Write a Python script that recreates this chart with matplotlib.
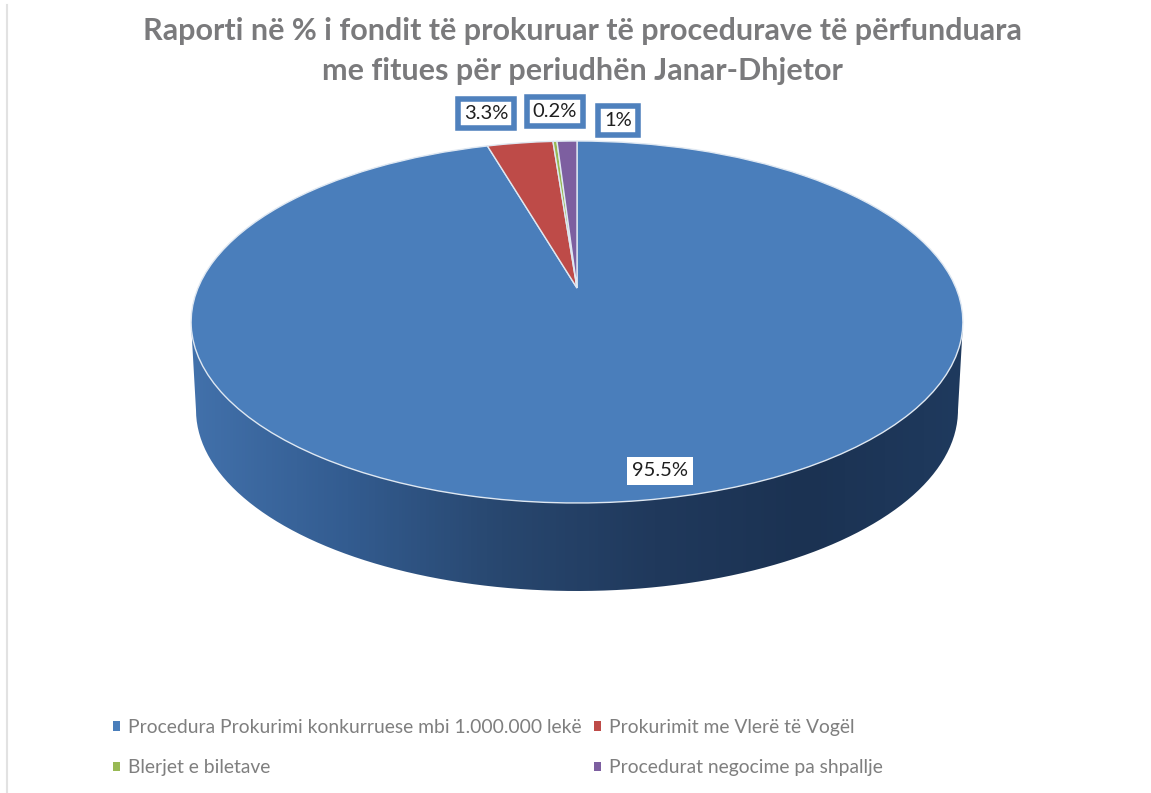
# -*- coding: utf-8 -*-
# 3D looking pie: procurement fund share by procedure type
import numpy as np
import matplotlib
matplotlib.use('Agg')
from matplotlib import pyplot as plt
from matplotlib.colors import LinearSegmentedColormap
from matplotlib.patches import PathPatch
from matplotlib.path import Path
from matplotlib.transforms import Transform

plt.rcParams['font.family'] = ['Lato', 'DejaVu Sans']

####HARDCODES####
title = 'Raporti në % i fondit të prokuruar të procedurave të përfunduara\nme fitues për periudhën Janar-Dhjetor'
categories = ['Procedura Prokurimi konkurruese mbi 1.000.000 lekë',
              'Prokurimit me Vlerë të Vogël',
              'Blerjet e biletave',
              'Procedurat negocime pa shpallje']
values = [95.5, 3.3, 0.2, 1]
value_labels = ['95.5%', '3.3%', '0.2%', '1%']
colors = ['#4a7ebb', '#be4b48', '#98b954', '#7d5fa0']
label_pos = [(660, 471), (486, 113.5), (555, 111.5), (618, 120.5)]  # pixels
boxed = [False, True, True, True]
legend_order = [0, 2, 1, 3]
#################

cx, apex_y = 577, 288  # where the wedges meet, the perspective moves it above the ellipse centre
k, a, b = 0.1878, 379.0, 174.6


class Perspective(Transform):
    # tilted disc: unit circle -> figure pixels
    input_dims = 2
    output_dims = 2

    def transform_non_affine(self, xy):
        xy = np.asarray(xy)
        d = 1 + k * xy[:, 1]
        return np.column_stack([cx + a * xy[:, 0] / d, apex_y - b * xy[:, 1] / d])


fig = plt.figure(figsize=(11.51, 7.93), dpi=100)
ax = fig.add_axes([0, 0, 1, 1])

wedges, _ = ax.pie(values, colors=colors, startangle=90, counterclock=False,
                   wedgeprops={'edgecolor': '#dfe8f2', 'linewidth': 1.0})
for w in wedges:
    w.set_transform(Perspective() + ax.transData)
    w.set_zorder(3)

ax.set_aspect('auto')
ax.set_xlim(0, 1151)
ax.set_ylim(793, 0)
ax.axis('off')

# side wall of the disc, gradient clipped to the wall outline
t = np.linspace(np.pi, 0, 200)
wall_x = 577 + 381 * np.cos(t)
wall_y = 410 + 181 * np.sin(t)
wall = np.vstack([[191, 322], np.column_stack([wall_x, wall_y]), [963, 322], [191, 322]])
wall_patch = PathPatch(Path(wall), facecolor='none', edgecolor='none')
ax.add_patch(wall_patch)
cmap = LinearSegmentedColormap.from_list('wall', ['#4271ab', '#335c90', '#28476f', '#20395c', '#1b3252', '#1f3a5e'])
im = ax.imshow(np.linspace(0, 1, 256).reshape(1, -1), cmap=cmap, aspect='auto',
               extent=(191, 963, 600, 322), zorder=1)
im.set_clip_path(wall_patch)
ax.set_xlim(0, 1151)
ax.set_ylim(793, 0)

ax.plot([7, 7], [5, 793], color='#e2e2e2', lw=1.5, zorder=0)

fig.text(582 / 1151, 1 - 51 / 793, title, ha='center', va='center', fontsize=22,
         fontweight='bold', color='#7a7a7c', linespacing=1.5)

for lab, pos, box in zip(value_labels, label_pos, boxed):
    if box:
        bb = {'boxstyle': 'square,pad=0.3', 'facecolor': 'white', 'edgecolor': '#4f81bd', 'linewidth': 4}
    else:
        bb = {'boxstyle': 'square,pad=0.27', 'facecolor': 'white', 'edgecolor': 'none'}
    ax.text(pos[0], pos[1], lab, ha='center', va='center', fontsize=14.5, color='#1f1f1f', bbox=bb, zorder=5)

leg = ax.legend([wedges[i] for i in legend_order], [categories[i] for i in legend_order],
                ncol=2, frameon=False, loc='upper left', bbox_to_anchor=(113 / 1151, 1 - 719 / 793),
                fontsize=13.9, labelcolor='#7f7f7f', handlelength=0.37, handleheight=0.37,
                handletextpad=0.41, columnspacing=0.62, labelspacing=1.2, borderpad=0, borderaxespad=0)
for h in leg.legend_handles:
    h.set_edgecolor('none')

fig.savefig('out.png', dpi=100)
